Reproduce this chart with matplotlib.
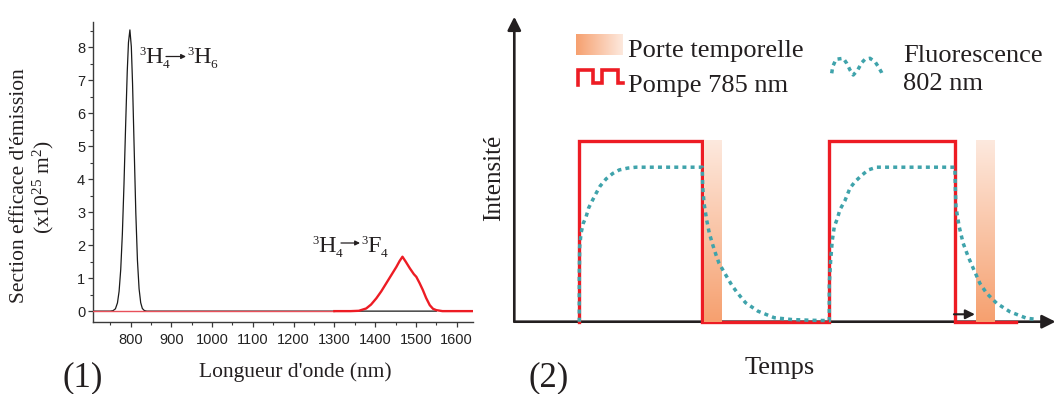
import matplotlib
matplotlib.use("Agg")
import matplotlib.pyplot as plt
import numpy as np
from matplotlib.colors import LinearSegmentedColormap
from matplotlib.ticker import MultipleLocator

plt.rcParams['font.family'] = ['Liberation Serif', 'DejaVu Serif']
plt.rcParams['mathtext.fontset'] = 'custom'
plt.rcParams['mathtext.rm'] = 'Liberation Serif'
plt.rcParams['mathtext.it'] = 'Liberation Serif:italic'
plt.rcParams['mathtext.bf'] = 'Liberation Serif:bold'

# ---------------- data: panel (1) emission cross sections ----------------
black_wl = [708, 750, 757, 763, 768, 772, 776, 780, 784, 788, 792, 795, 798.5,
            802, 805, 809, 813, 817, 821, 825, 829, 834, 840, 900, 1100, 1300, 1550]
black_val = [0, 0, 0.013, 0.07, 0.25, 0.6, 1.26, 2.34, 3.85, 5.62, 7.27, 8.15, 8.53,
             8.02, 6.9, 4.92, 2.98, 1.54, 0.68, 0.255, 0.08, 0.016, 0, 0, 0, 0, 0]
red_wl = [1300, 1340, 1360, 1378, 1390, 1403, 1415, 1427, 1440, 1452, 1460, 1467,
          1475, 1485, 1495, 1501, 1509, 1517, 1525, 1534, 1542, 1550, 1565, 1640]
red_val = [0, 0, 0.01, 0.08, 0.2, 0.39, 0.6, 0.84, 1.1, 1.34, 1.52, 1.65,
           1.5, 1.3, 1.12, 1.04, 0.85, 0.64, 0.4, 0.18, 0.07, 0.03, 0.0, 0.0]
red_base_wl = [708, 1300]
red_base_val = [0, 0]
xticks1 = [800, 900, 1000, 1100, 1200, 1300, 1400, 1500, 1600]
yticks1 = [0, 1, 2, 3, 4, 5, 6, 7, 8]

# ---------------- data: panel (2) time diagram ----------------
pump_t = [0, 0, 0.984, 0.984, 2.0, 2.0, 3.005, 3.005, 3.49]
pump_I = [0, 1, 1, 0, 0, 1, 1, 0, 0]
fluo_t = [0.0, 0.0, 0.003, 0.014, 0.032, 0.054, 0.075, 0.104, 0.134, 0.166, 0.214,
          0.267, 0.32, 0.387, 0.454, 0.984,
          0.987, 0.998, 1.019, 1.04, 1.07, 1.094, 1.118, 1.179, 1.219, 1.264, 1.33,
          1.43, 1.56, 1.7, 1.85, 2.0,
          2.0, 2.011, 2.024, 2.04, 2.064, 2.085, 2.125, 2.166, 2.206, 2.259, 2.312,
          2.379, 3.005,
          3.008, 3.013, 3.039, 3.071, 3.111, 3.151, 3.205, 3.259, 3.339, 3.445,
          3.579, 3.659]
fluo_I = [0.0, 0.25, 0.415, 0.49, 0.545, 0.58, 0.63, 0.67, 0.71, 0.75, 0.79,
          0.82, 0.84, 0.85, 0.855, 0.855,
          0.747, 0.655, 0.563, 0.49, 0.42, 0.369, 0.323, 0.25, 0.203, 0.16, 0.105,
          0.058, 0.022, 0.012, 0.008, 0.006,
          0.21, 0.34, 0.45, 0.526, 0.57, 0.62, 0.67, 0.74, 0.775, 0.81, 0.84,
          0.855, 0.855,
          0.747, 0.636, 0.526, 0.434, 0.36, 0.296, 0.212, 0.157, 0.102, 0.055,
          0.019, 0.013]
gate_start = [0.997, 3.171]
gate_end = [1.139, 3.318]
gate_top = 1.006

RED = '#ed1c24'
TEAL = '#3fa3ab'
DARK = '#231f20'
W, H = 1058, 394

fig = plt.figure(figsize=(10.58, 3.94), dpi=100)


def fx(px):
    return px / W


def fy(py):
    return 1 - py / H


# ================= panel (1) =================
axL = fig.add_axes([fx(93), fy(322), (473 - 93) / W, (322 - 22) / H])
axL.plot(black_wl, black_val, color='#1a1a1a', lw=0.9, zorder=2)
axL.plot(red_base_wl, red_base_val, color='#e8505a', lw=1.0, zorder=3)
axL.plot(red_wl, red_val, color=RED, lw=1.7, zorder=4)
axL.set_xlim(708, 1640)
axL.set_ylim(-0.33, 8.77)
for s in ['top', 'right']:
    axL.spines[s].set_visible(False)
for s in ['left', 'bottom']:
    axL.spines[s].set_color('#3a3a3a')
    axL.spines[s].set_linewidth(1.0)
axL.set_xticks(xticks1)
axL.set_yticks(yticks1)
axL.xaxis.set_minor_locator(MultipleLocator(50))
axL.yaxis.set_minor_locator(MultipleLocator(0.5))
axL.tick_params(which='major', direction='out', length=3.6, width=0.9, color='#3a3a3a',
                labelsize=10.5, labelcolor='#222222')
axL.tick_params(axis='x', which='major', pad=4.5)
axL.tick_params(axis='y', which='major', pad=2)
axL.tick_params(which='minor', direction='out', length=2, width=0.8, color='#3a3a3a')
for lbl in axL.get_xticklabels() + axL.get_yticklabels():
    lbl.set_fontfamily('Liberation Sans')

fig.text(fx(20), fy(186), "Section efficace d'émission", rotation=90, ha='center',
         va='center', fontsize=15.5, color=DARK)
fig.text(fx(43), fy(187), r'(x10$^{25}$ m$^{2}$)', rotation=90, ha='center',
         va='center', fontsize=15.5, color=DARK)
fig.text(fx(295), fy(376.7), "Longueur d'onde (nm)", ha='center', va='baseline',
         fontsize=15.5, color=DARK)
fig.text(fx(83), fy(386), '(1)', ha='center', va='baseline', fontsize=25, color=DARK)

# ================= panel (2) =================
x0px, y0px = 514.3, 321.7
tpx, ipx = 125.0, 180.7
t_left = (x0px - 579.3) / tpx
t_right = (W - 579.3) / tpx
i_top = y0px / ipx
axR = fig.add_axes([fx(x0px), fy(y0px), (W - x0px) / W, y0px / H])
axR.set_axis_off()

gate_cmap = LinearSegmentedColormap.from_list('gate', ['#f6a06f', '#fde9de'])
grad_v = np.linspace(0, 1, 256).reshape(-1, 1)
for a, b in zip(gate_start, gate_end):
    axR.imshow(grad_v, cmap=gate_cmap, origin='lower', aspect='auto',
               extent=(a, b, 0, gate_top), zorder=3, interpolation='bilinear',
               clip_on=False)

axR.annotate('', xy=(3.81, 0), xytext=(t_left, 0),
             arrowprops=dict(arrowstyle='-|>', lw=1.9, color=DARK, mutation_scale=20,
                             shrinkA=0, shrinkB=0), zorder=1, annotation_clip=False)
axR.annotate('', xy=(t_left, (y0px - 16.7) / ipx), xytext=(t_left, 0),
             arrowprops=dict(arrowstyle='-|>', lw=1.9, color=DARK, mutation_scale=20,
                             shrinkA=0, shrinkB=0), zorder=1, annotation_clip=False)
axR.plot(pump_t, pump_I, color=RED, lw=2.4, solid_joinstyle='miter', zorder=2,
         clip_on=False)
axR.plot(fluo_t, fluo_I, color=TEAL, lw=2.5, linestyle=(0, (1.15, 1.2)),
         dash_capstyle='butt', zorder=4, clip_on=False)
axR.annotate('', xy=(3.165, 0.041), xytext=(2.997, 0.041),
             arrowprops=dict(arrowstyle='-|>', lw=1.5, color=DARK, mutation_scale=14,
                             shrinkA=0, shrinkB=0), zorder=5)
axR.set_xlim(t_left, t_right)
axR.set_ylim(0, i_top)

# overlay in pixel coordinates for legend and labels
axO = fig.add_axes([0, 0, 1, 1])
axO.set_axis_off()
axO.patch.set_alpha(0)
grad_h = np.linspace(0, 1, 256).reshape(1, -1)
axO.imshow(grad_h, cmap=gate_cmap, aspect='auto', extent=(576, 622.7, 55, 34),
           interpolation='bilinear')
axO.plot([578.3, 578.3, 593.3, 593.3, 601.7, 601.7, 618.3, 618.3, 622.7],
         [85, 70, 70, 83.3, 83.3, 70, 70, 83.3, 83.3], color=RED, lw=2.6,
         solid_joinstyle='miter')
axO.plot([831.7, 832.7, 836, 843.3, 846.7, 850, 853.3, 857.7, 861.7, 865, 870, 875,
          878.3, 881.7, 883.3],
         [73.3, 66.7, 59.3, 58.3, 63.3, 70, 75, 70, 62.7, 59.3, 58.3, 61.7, 66.7, 72.7,
          76.7], color=TEAL, lw=2.5, linestyle=(0, (1.15, 1.2)), dash_capstyle='butt')
axO.set_xlim(0, W)
axO.set_ylim(H, 0)
axO.text(628, 56.7, 'Porte temporelle', fontsize=19, color=DARK, va='baseline')
axO.text(628, 92, 'Pompe 785 nm', fontsize=19, color=DARK, va='baseline')
axO.text(903, 61.7, 'Fluorescence', fontsize=19, color=DARK, va='baseline')
axO.text(903, 90, '802 nm', fontsize=19, color=DARK, va='baseline')
axO.text(494, 178, 'Intensité', rotation=90, ha='center', va='center', fontsize=18,
         color=DARK)
axO.text(780, 374, 'Temps', ha='center', va='baseline', fontsize=19, color=DARK)
axO.text(549, 386, '(2)', ha='center', va='baseline', fontsize=25, color=DARK)

# spectroscopic transition labels (pixel layout)
renderer = fig.canvas.get_renderer()


def term(x, yb, digit_sup, letter, digit_sub):
    parts = [(digit_sup, 9, -8.0), (letter, 17.5, 0.0), (digit_sub, 9.5, 5.0)]
    for s, size, dy in parts:
        t = axO.text(x, yb + dy, s, fontsize=size, color=DARK, va='baseline', ha='left')
        x += t.get_window_extent(renderer).width
    return x


def arrow(x1, x2, y):
    axO.annotate('', xy=(x2, y), xytext=(x1, y),
                 arrowprops=dict(arrowstyle='-|>', lw=0.9, color=DARK, mutation_scale=7,
                                 shrinkA=0, shrinkB=0))


term(139, 63.3, '3', 'H', '4')
arrow(166, 186, 56.5)
term(187, 63.3, '3', 'H', '6')
term(312.5, 251.7, '3', 'H', '4')
arrow(341, 360, 243)
term(361, 251.7, '3', 'F', '4')

fig.savefig('out.png', dpi=100)
